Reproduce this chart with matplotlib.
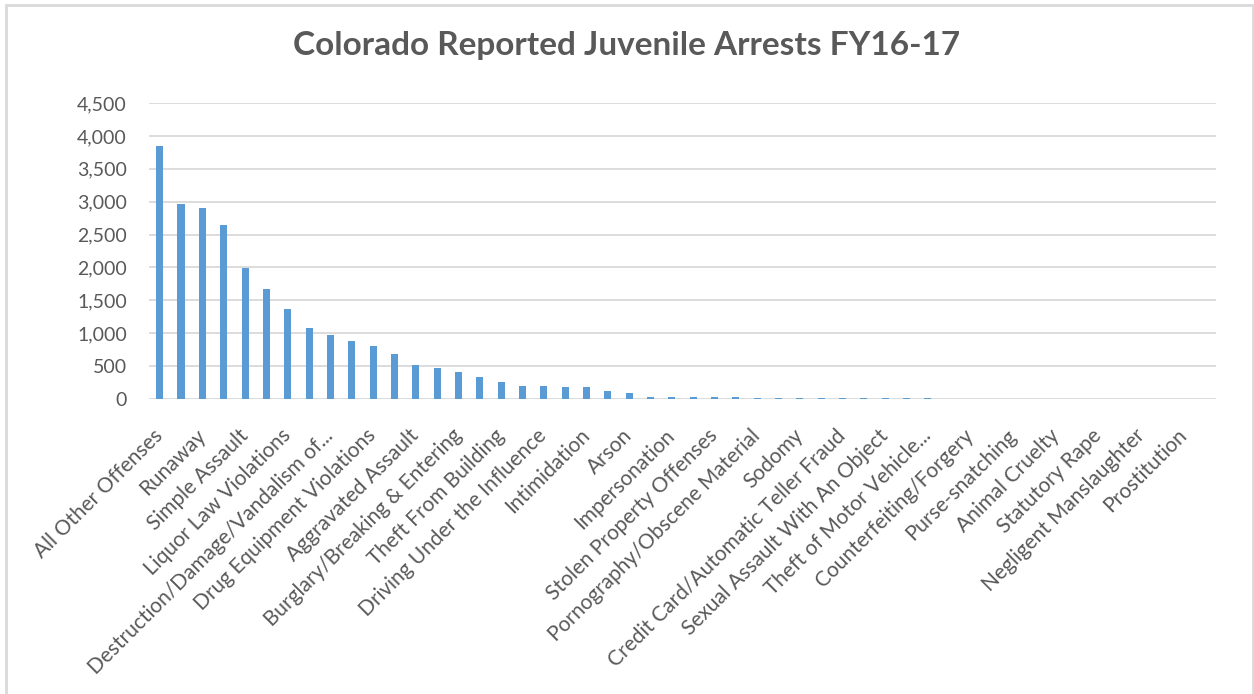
import matplotlib.pyplot as plt
import numpy as np
from matplotlib.patches import Rectangle
from matplotlib.ticker import FuncFormatter

plt.rcParams['font.family'] = ['Lato', 'DejaVu Sans']

# arrests per offense, sorted high to low (50 offense categories)
arrests = [3840, 2970, 2905, 2650, 1990, 1670, 1365, 1085, 975, 875,
           800, 690, 510, 470, 415, 335, 260, 198, 196, 182,
           180, 115, 85, 38, 36, 27, 26, 25, 21, 16,
           15, 14, 12, 10, 10, 9, 8, 6, 6, 5,
           5, 4, 3, 3, 2, 2, 2, 1, 1, 1]

# only every second category gets a label on the axis
shown_labels = ['All Other Offenses', 'Runaway', 'Simple Assault',
                'Liquor Law Violations', 'Destruction/Damage/Vandalism of...',
                'Drug Equipment Violations', 'Aggravated Assault',
                'Burglary/Breaking & Entering', 'Theft From Building',
                'Driving Under the Influence', 'Intimidation', 'Arson',
                'Impersonation', 'Stolen Property Offenses',
                'Pornography/Obscene Material', 'Sodomy',
                'Credit Card/Automatic Teller Fraud',
                'Sexual Assault With An Object', 'Theft of Motor Vehicle...',
                'Counterfeiting/Forgery', 'Purse-snatching', 'Animal Cruelty',
                'Statutory Rape', 'Negligent Manslaughter', 'Prostitution']

y_ticks = [0, 500, 1000, 1500, 2000, 2500, 3000, 3500, 4000, 4500]

text_grey = '#595959'
grid_grey = '#d9d9d9'
bar_blue = '#5b9bd5'

W, H = 1254, 694
fig = plt.figure(figsize=(W / 100, H / 100), dpi=100)
ax = fig.add_axes([149 / W, 1 - 399 / H, (1216 - 149) / W, (399 - 103) / H])

x = np.arange(len(arrests))
ax.bar(x, arrests, width=0.33, color=bar_blue, zorder=3)

ax.set_xlim(-0.5, len(arrests) - 0.5)
ax.set_ylim(0, 4500)
ax.set_yticks(y_ticks)
ax.yaxis.set_major_formatter(FuncFormatter(lambda v, p: f'{int(v):,}'))
ax.grid(axis='y', color=grid_grey, linewidth=1.3, zorder=0)

ax.set_xticks(x[::2])
ax.set_xticklabels(shown_labels, rotation=45, ha='right', va='center',
                   rotation_mode='anchor')

for s in ax.spines.values():
    s.set_visible(False)
ax.tick_params(axis='both', length=0, labelsize=14, labelcolor=text_grey)
ax.tick_params(axis='x', pad=24, labelsize=15)
ax.tick_params(axis='y', pad=16)

fig.text(0.5, 1 - 45 / H, 'Colorado Reported Juvenile Arrests FY16-17',
         ha='center', va='center', fontsize=24, fontweight='bold',
         color=text_grey)

# light outline around the chart area
fig.add_artist(Rectangle((5.5 / W, -0.01), (1253 - 5.5) / W, 1 - 4.5 / H + 0.01,
                         transform=fig.transFigure, fill=False,
                         edgecolor=grid_grey, linewidth=2))

fig.savefig('out.png', dpi=100)
